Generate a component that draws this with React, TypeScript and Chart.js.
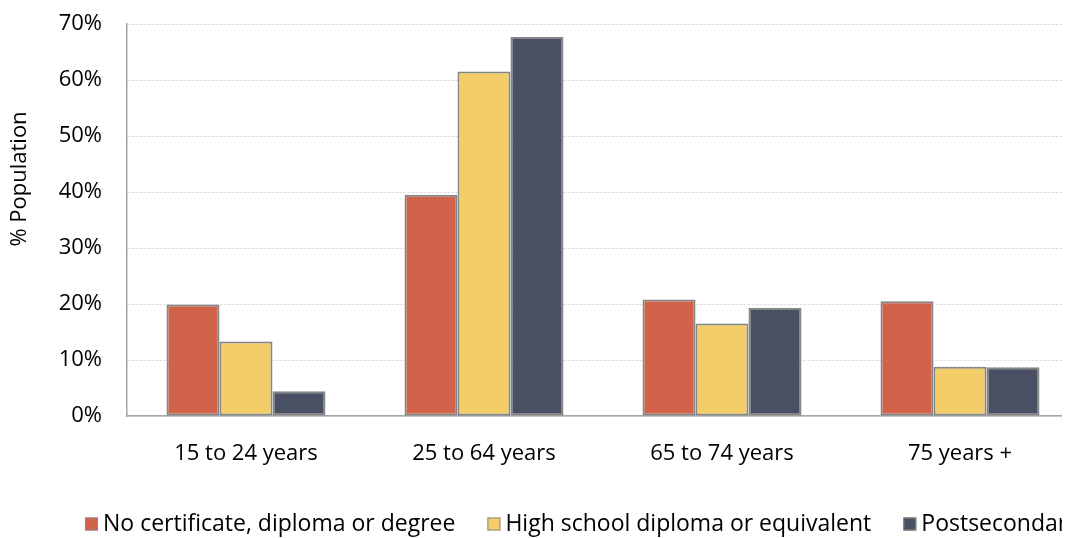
import React, { useEffect, useRef } from "react";
import { Chart, registerables } from "chart.js";

Chart.register(...registerables);

const categories = ["15 to 24 years", "25 to 64 years", "65 to 74 years", "75 years +"];
const seriesNames = [
  "No certificate, diploma or degree",
  "High school diploma or equivalent",
  "Postsecondary",
];
const noCertificate = [19.9, 39.5, 20.8, 20.5];
const highSchool = [13.3, 61.5, 16.5, 8.8];
const postsecondary = [4.4, 67.7, 19.3, 8.7];
const yAxisTitle = "% Population";
const yMax = 70;
const yStep = 10;

const seriesColors = ["#D0634A", "#F3CE68", "#4A5063"];
const FONT = "'Open Sans', 'Noto Sans', sans-serif";

const legendPlugin = {
  id: "customLegend",
  afterDraw(chart: any) {
    const ctx = chart.ctx;
    ctx.save();
    ctx.font = `23px ${FONT}`;
    ctx.textBaseline = "middle";
    ctx.textAlign = "left";
    let x = 77;
    const y = 516;
    const box = 13;
    chart.data.datasets.forEach((ds: any) => {
      ctx.fillStyle = ds.backgroundColor;
      ctx.fillRect(x, y - box / 2, box, box);
      ctx.strokeStyle = "#8a8a8a";
      ctx.lineWidth = 1;
      ctx.strokeRect(x + 0.5, y - box / 2 + 0.5, box - 1, box - 1);
      ctx.fillStyle = "#000";
      ctx.fillText(ds.label, x + box + 5, y);
      x += box + 5 + ctx.measureText(ds.label).width + 32;
    });
    ctx.restore();

    // y-axis title (placed above the plot's vertical centre, as in the reference)
    ctx.save();
    ctx.font = `22px ${FONT}`;
    ctx.fillStyle = "#000";
    ctx.textAlign = "center";
    ctx.textBaseline = "middle";
    ctx.translate(12, 171);
    ctx.rotate(-Math.PI / 2);
    ctx.fillText(yAxisTitle, 0, 0);
    ctx.restore();
  },
};

export default function App() {
  const canvasRef = useRef<HTMLCanvasElement | null>(null);

  useEffect(() => {
    document.documentElement.style.overflow = "hidden";
    document.body.style.overflow = "hidden";
    const canvas = canvasRef.current;
    if (!canvas) return;
    const values = [noCertificate, highSchool, postsecondary];
    const chart = new Chart(canvas, {
      type: "bar",
      data: {
        labels: categories,
        datasets: seriesNames.map((name, i) => ({
          label: name,
          data: values[i],
          backgroundColor: seriesColors[i],
          borderColor: "#858585",
          borderWidth: 2,
          borderSkipped: false,
          barPercentage: 1,
          categoryPercentage: 0.668,
        })),
      },
      options: {
        animation: false,
        responsive: true,
        maintainAspectRatio: false,
        devicePixelRatio: 1,
        layout: { padding: { top: 16, right: 19, left: 0, bottom: 0 } },
        plugins: {
          tooltip: { enabled: false },
          legend: { display: false },
        },
        scales: {
          x: {
            grid: { display: false, drawTicks: false },
            border: { display: true, color: "#a6a6a6", width: 1.5 },
            ticks: { color: "#000", font: { family: FONT, size: 22 }, padding: 25, maxRotation: 0 },
            afterFit: (scale: any) => {
              scale.height = 122;
            },
          },
          y: {
            min: 0,
            max: yMax,
            ticks: {
              stepSize: yStep,
              color: "#000",
              font: { family: FONT, size: 22 },
              padding: 25,
              callback: (v: any) => v + "%",
            },
            grid: { color: "#d4d4d4", lineWidth: 1, drawTicks: false },
            border: { display: true, color: "#a6a6a6", width: 1.5, dash: [2, 2] },
            title: { display: false, text: yAxisTitle },
            afterFit: (scale: any) => {
              scale.width = 119;
              scale.paddingTop = 0;
              scale.paddingBottom = 0;
            },
          },
        },
      },
      plugins: [legendPlugin],
    } as any);
    return () => chart.destroy();
  }, []);

  return (
    <div style={{ width: 1090, height: 530, position: "relative" }}>
      <canvas ref={canvasRef} />
    </div>
  );
}
